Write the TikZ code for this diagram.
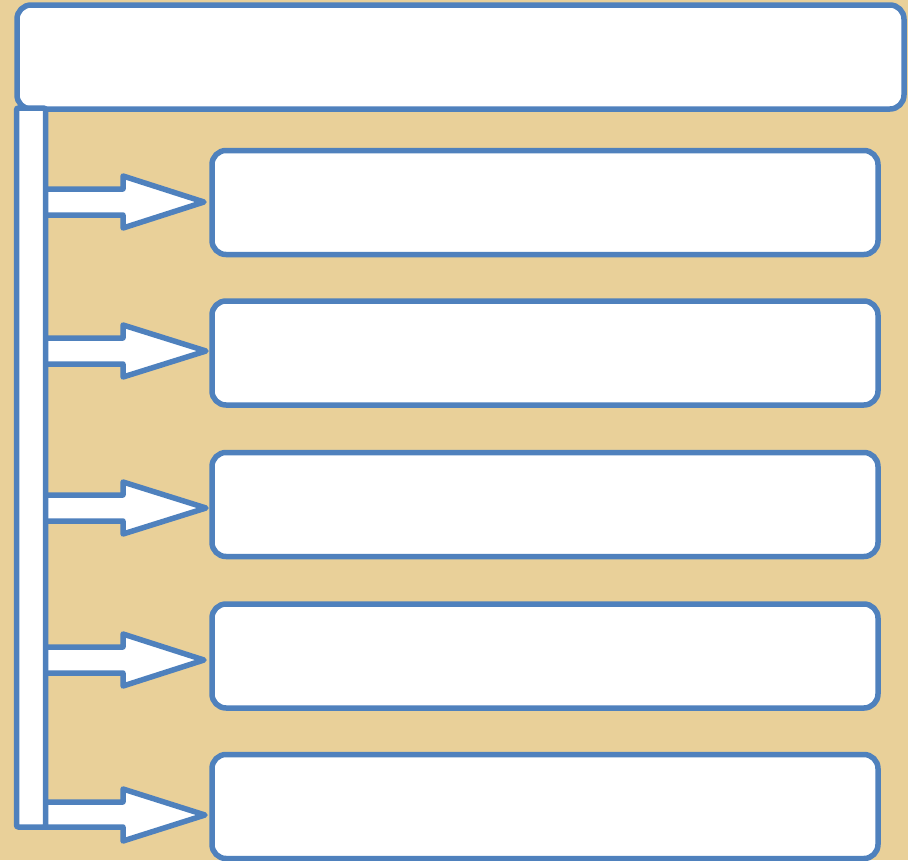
\documentclass[tikz,border=0pt]{standalone}
\usetikzlibrary{calc}
\definecolor{papyrus}{RGB}{233,208,153}
\definecolor{edgeblue}{RGB}{79,129,189}
\tikzset{
  panel/.style={draw=edgeblue, fill=white, line width=5.5pt, rounded corners=14pt,
    rectangle, inner sep=0pt, outer sep=0pt},
  blockarrow/.style={draw=edgeblue, fill=white, line width=5.5pt, line join=round},
  barstyle/.style={draw=edgeblue, fill=white, line width=5.5pt, rounded corners=2pt}
}
\begin{document}
\begin{tikzpicture}[x=1pt,y=-1pt]
\useasboundingbox (0,0) rectangle (908,860);
\fill[papyrus] (0,0) rectangle (908,860);
% boxes
\node[panel, minimum width=887pt, minimum height=104pt] (top) at (460.5,57) {};
\foreach \i/\cy in {1/202.5,2/353,3/504.5,4/656,5/806.5}{
  \node[panel, minimum width=666pt, minimum height=104pt] (box\i) at (545,\cy) {};
}
% arrows
\foreach \i/\ty/\tx/\sb in {1/202/204/13,2/351/206/13,3/508/206/13,4/660/204/13,5/815/205/12}{
  \coordinate (tip\i) at (\tx,\ty);
  \draw[blockarrow] (44,\ty-13) -- (123,\ty-13) -- (123,\ty-26) -- (tip\i)
     -- (123,\ty+26) -- (123,\ty+\sb) -- (44,\ty+\sb) -- cycle;
}
% vertical bar
\coordinate (barNW) at (16.5,108);
\coordinate (barSE) at (45.5,827);
\draw[barstyle] (barNW) rectangle (barSE);
\end{tikzpicture}
\end{document}
